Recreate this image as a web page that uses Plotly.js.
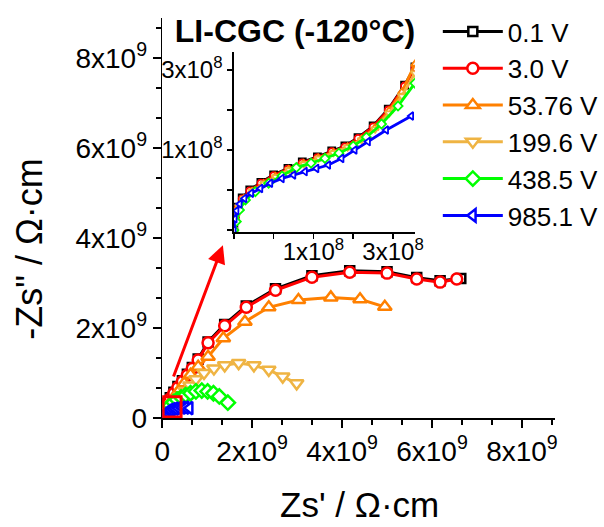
<!DOCTYPE html>
<html><head><meta charset="utf-8">
<script src="https://cdn.plot.ly/plotly-3.0.1.min.js"></script>
<style>html,body{margin:0;padding:0;background:#fff}#chart{width:604px;height:527px}</style>
</head><body><div id="chart"></div>
<script>
// Series names and colours
const seriesNames = ['0.1 V', '3.0 V', '53.76 V', '199.6 V', '438.5 V', '985.1 V'];
const seriesColors = ['#000000', '#FF0000', '#FF8000', '#EFB443', '#00FF00', '#0000FF'];
const seriesSymbols = ['square', 'circle', 'triangle-up', 'triangle-down', 'diamond', 'triangle-left'];
const seriesSizes = [9, 11, 12, 12, 11, 11];

// Main plot values, in units of 10^9 Ohm·cm
const zre_01 = [0.0,0.03,0.07,0.12,0.18,0.26,0.35,0.45,0.56,0.67,0.80,1.02,1.39,1.87,2.52,3.33,4.17,5.00,5.66,6.18,6.64];
const zim_01 = [0.0,0.11,0.21,0.33,0.45,0.57,0.70,0.83,0.97,1.12,1.31,1.69,2.08,2.49,2.87,3.16,3.27,3.25,3.12,3.05,3.10];
const zre_30 = [0.0,0.03,0.07,0.12,0.18,0.26,0.35,0.45,0.56,0.67,0.80,1.02,1.39,1.87,2.52,3.33,4.17,5.00,5.66,6.18,6.55];
const zim_30 = [0.0,0.10,0.20,0.31,0.43,0.55,0.68,0.81,0.95,1.10,1.29,1.67,2.05,2.46,2.84,3.13,3.24,3.22,3.09,3.02,3.09];
const zre_5376 = [0.0,0.04,0.09,0.15,0.23,0.31,0.40,0.49,0.63,0.80,1.02,1.36,1.84,2.37,3.03,3.75,4.40,4.95];
const zim_5376 = [0.0,0.09,0.18,0.29,0.41,0.52,0.64,0.77,0.96,1.14,1.36,1.77,2.14,2.46,2.62,2.68,2.64,2.47];
const zre_1996 = [0.0,0.04,0.09,0.15,0.22,0.30,0.40,0.52,0.62,0.75,0.93,1.15,1.39,1.70,2.04,2.37,2.68,2.99];
const zim_1996 = [0.0,0.07,0.14,0.22,0.30,0.38,0.48,0.60,0.72,0.86,1.00,1.10,1.17,1.22,1.17,1.07,0.92,0.77];
const zre_4385 = [0.0,0.03,0.07,0.12,0.18,0.25,0.33,0.42,0.52,0.63,0.75,0.88,1.01,1.14,1.27,1.46];
const zim_4385 = [0.0,0.07,0.14,0.21,0.28,0.35,0.41,0.46,0.51,0.55,0.59,0.61,0.59,0.55,0.48,0.34];
const zre_9851 = [0.0,0.02,0.04,0.07,0.10,0.14,0.18,0.23,0.29,0.36,0.44,0.52,0.61];
const zim_9851 = [0.0,0.04,0.07,0.10,0.13,0.16,0.18,0.20,0.21,0.22,0.23,0.23,0.22];

// Inset values, in units of 10^8 Ohm·cm
const ins_zre_01 = [-1.0,-0.96,-0.9,-0.79,-0.6,-0.32,0.0,0.36,0.72,1.1,1.46,1.79,2.12,2.5,2.88,3.29,3.55];
const ins_zim_01 = [-0.98,-0.70,-0.43,-0.20,0.0,0.19,0.38,0.54,0.70,0.83,0.98,1.10,1.31,1.60,2.02,2.62,3.08];
const ins_zre_30 = [-1.0,-0.96,-0.9,-0.79,-0.6,-0.32,0.0,0.36,0.72,1.1,1.46,1.79,2.12,2.5,2.88,3.29,3.55];
const ins_zim_30 = [-1.0,-0.72,-0.45,-0.22,-0.02,0.17,0.36,0.52,0.68,0.81,0.96,1.08,1.29,1.58,2.0,2.6,3.05];
const ins_zre_5376 = [-1.0,-0.96,-0.88,-0.75,-0.54,-0.25,0.04,0.38,0.75,1.12,1.5,1.86,2.2,2.54,2.9,3.22,3.55];
const ins_zim_5376 = [-1.0,-0.68,-0.42,-0.22,-0.03,0.16,0.34,0.51,0.66,0.8,0.94,1.08,1.27,1.55,1.98,2.45,3.15];
const ins_zre_1996 = [-1.0,-0.95,-0.87,-0.74,-0.53,-0.24,0.05,0.39,0.76,1.13,1.5,1.86,2.21,2.55,2.9,3.22,3.55];
const ins_zim_1996 = [-1.0,-0.66,-0.41,-0.21,-0.03,0.16,0.33,0.5,0.65,0.79,0.93,1.07,1.25,1.52,1.92,2.35,2.92];
const ins_zre_4385 = [-1.0,-0.94,-0.86,-0.71,-0.46,-0.125,0.21,0.57,0.94,1.29,1.64,2.0,2.33,2.71,3.125,3.55];
const ins_zim_4385 = [-1.0,-0.79,-0.5,-0.25,-0.04,0.17,0.35,0.56,0.67,0.79,0.92,1.1,1.32,1.65,2.1,2.67];
const ins_zre_9851 = [-1.0,-0.975,-0.93,-0.85,-0.73,-0.56,-0.33,-0.08,0.21,0.5,0.79,1.08,1.375,1.71,2.04,2.375,2.83,3.46];
const ins_zim_9851 = [-1.0,-0.72,-0.52,-0.35,-0.21,-0.08,0.04,0.17,0.29,0.375,0.46,0.54,0.625,0.79,1.0,1.21,1.5,1.85];

// Tick labels
const mainTickVals = [0, 2, 4, 6, 8];
const mainTickText = ['0', '2x10<sup>9</sup>', '4x10<sup>9</sup>', '6x10<sup>9</sup>', '8x10<sup>9</sup>'];
const insetTickVals = [1, 3];
const insetTickText = ['1x10<sup>8</sup>', '3x10<sup>8</sup>'];

const mainX = [zre_01, zre_30, zre_5376, zre_1996, zre_4385, zre_9851];
const mainY = [zim_01, zim_30, zim_5376, zim_1996, zim_4385, zim_9851];
const insX = [ins_zre_01, ins_zre_30, ins_zre_5376, ins_zre_1996, ins_zre_4385, ins_zre_9851];
const insY = [ins_zim_01, ins_zim_30, ins_zim_5376, ins_zim_1996, ins_zim_4385, ins_zim_9851];

const traces = [];
for (let i = 0; i < seriesNames.length; i++) {
  traces.push({
    type: 'scatter', mode: 'lines+markers', name: seriesNames[i],
    x: mainX[i], y: mainY[i], xaxis: 'x', yaxis: 'y',
    line: {color: seriesColors[i], width: 3},
    marker: {symbol: seriesSymbols[i], size: seriesSizes[i], color: '#FFFFFF', line: {color: seriesColors[i], width: 2.5}},
    showlegend: true
  });
}
for (let i = 0; i < seriesNames.length; i++) {
  traces.push({
    type: 'scatter', mode: 'lines+markers', name: seriesNames[i],
    x: insX[i], y: insY[i], xaxis: 'x2', yaxis: 'y2',
    line: {color: seriesColors[i], width: 2.8},
    marker: {symbol: seriesSymbols[i], size: 7, color: '#FFFFFF', line: {color: seriesColors[i], width: 1.8}},
    showlegend: false
  });
}

const W = 604, H = 527;
const axisCommon = {
  showline: true, linecolor: 'black', linewidth: 1.5,
  ticks: 'outside', tickcolor: 'black', tickwidth: 1.5,
  showgrid: false, zeroline: false, fixedrange: true, automargin: false,
  tickmode: 'array'
};

const layout = {
  width: W, height: H,
  margin: {l: 0, r: 0, t: 0, b: 0},
  paper_bgcolor: 'white', plot_bgcolor: 'rgba(0,0,0,0)',
  font: {family: 'Liberation Sans, Arial, sans-serif', color: 'black'},
  title: {text: 'LI-CGC (-120°C)', x: 295 / W, xanchor: 'center', y: 1 - 31 / H, yanchor: 'middle',
          font: {size: 32, weight: 'bold', color: 'black', family: 'Liberation Sans, Arial, sans-serif'}},
  xaxis: Object.assign({}, axisCommon, {
    domain: [163 / W, 558 / W], range: [0, 8.74], anchor: 'y',
    ticklen: 8, tickvals: mainTickVals, ticktext: mainTickText,
    tickfont: {size: 28, color: 'black'},
    minor: {dtick: 2 / 3, tick0: 0, ticks: 'outside', ticklen: 5, tickwidth: 1.5, tickcolor: 'black'}
  }),
  yaxis: Object.assign({}, axisCommon, {
    domain: [1 - 418 / H, 1 - 18 / H], range: [0, 8.89], anchor: 'x',
    ticklen: 8, tickvals: mainTickVals, ticktext: mainTickText,
    tickfont: {size: 28, color: 'black'},
    minor: {dtick: 2 / 3, tick0: 0, ticks: 'outside', ticklen: 5, tickwidth: 1.5, tickcolor: 'black'}
  }),
  xaxis2: Object.assign({}, axisCommon, {
    domain: [235 / W, 417 / W], range: [-1.0, 3.55], anchor: 'y2',
    ticklen: 5, tickvals: insetTickVals, ticktext: insetTickText, ticklabelstandoff: -7,
    tickfont: {size: 24, color: 'black'},
    minor: {dtick: 1, tick0: 0, ticks: 'outside', ticklen: 5, tickwidth: 1.5, tickcolor: 'black'}
  }),
  yaxis2: Object.assign({}, axisCommon, {
    domain: [1 - 232 / H, 1 - 52 / H], range: [-1.05, 3.45], anchor: 'x2',
    ticklen: 5, tickvals: insetTickVals, ticktext: insetTickText,
    tickfont: {size: 24, color: 'black'},
    minor: {dtick: 1, tick0: 0, ticks: 'outside', ticklen: 5, tickwidth: 1.5, tickcolor: 'black'}
  }),
  legend: {
    x: 440 / W, y: 1 - 8 / H, xanchor: 'left', yanchor: 'top',
    font: {size: 26, color: 'black'}, bgcolor: 'rgba(0,0,0,0)', itemwidth: 60,
    tracegroupgap: 0
  },
  shapes: [
    {type: 'rect', xref: 'x', yref: 'y', x0: 0.02, x1: 0.42, y0: 0.02, y1: 0.47,
     line: {color: 'red', width: 3}, layer: 'above'}
  ],
  annotations: [
    {xref: 'x', yref: 'y', axref: 'x', ayref: 'y', x: 1.35, y: 3.84, ax: 0.24, ay: 0.89,
     text: '', showarrow: true, arrowhead: 2, arrowsize: 1.2, arrowwidth: 3, arrowcolor: 'red'},
    {xref: 'paper', yref: 'paper', x: 361 / W, y: 1 - 504 / H, xanchor: 'center', yanchor: 'middle',
     text: "Zs' / Ω·cm", showarrow: false, font: {size: 35, color: 'black'}},
    {xref: 'paper', yref: 'paper', x: 30 / W, y: 1 - 249 / H, xanchor: 'center', yanchor: 'middle',
     text: '-Zs" / Ω·cm', textangle: -90, showarrow: false, font: {size: 36, color: 'black'}}
  ]
};

Plotly.newPlot('chart', traces, layout, {staticPlot: true, displayModeBar: false});
</script></body></html>
